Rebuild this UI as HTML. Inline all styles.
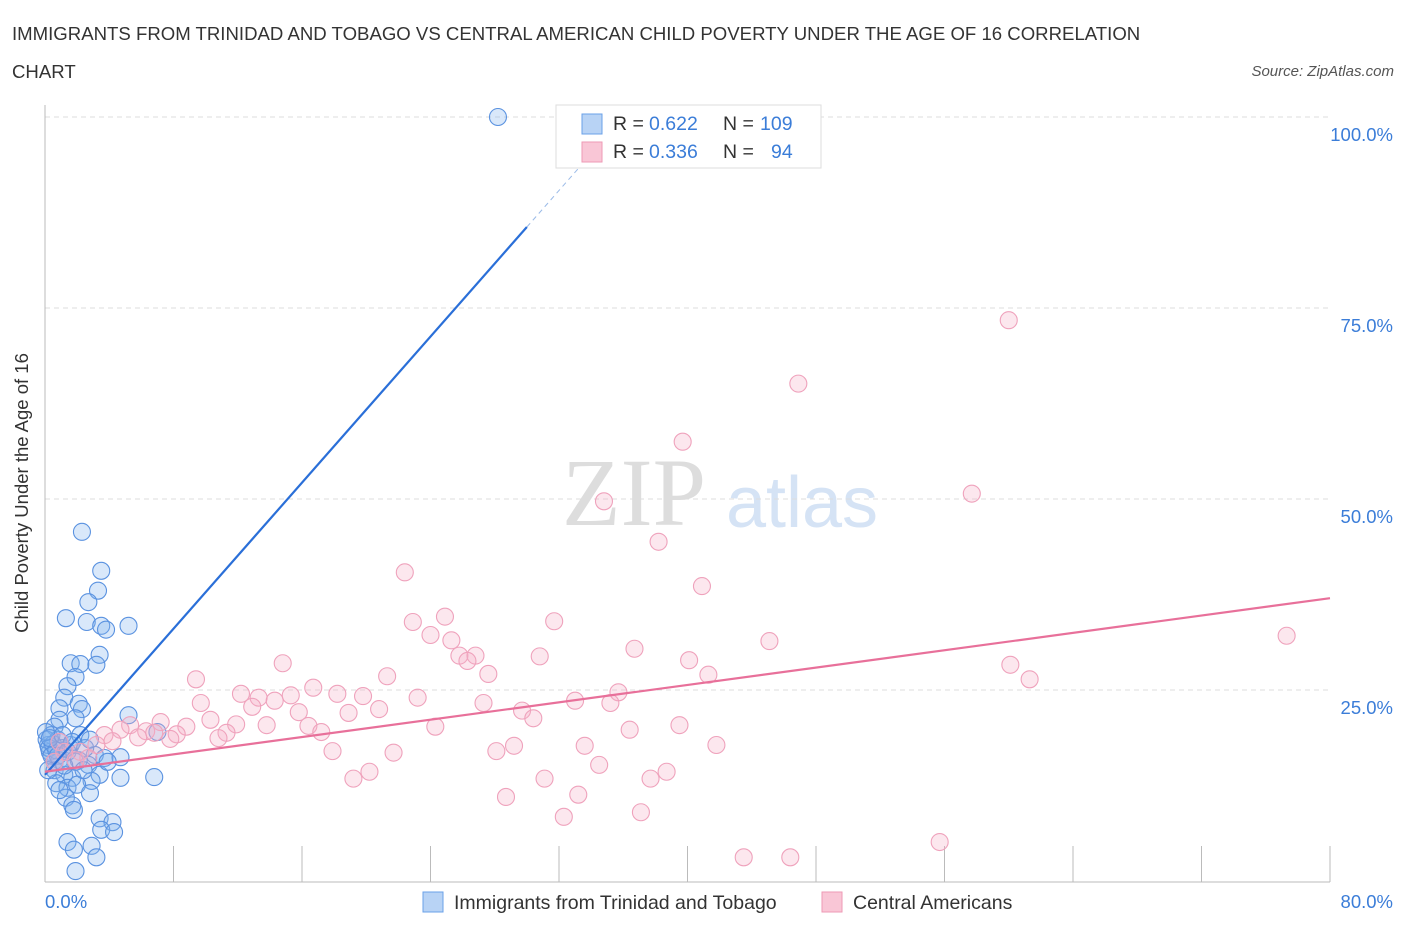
<!DOCTYPE html>
<html><head><meta charset="utf-8"><style>
body{margin:0;background:#fff;font-family:"Liberation Sans",sans-serif;}
svg text{font-family:"Liberation Sans",sans-serif;}
</style></head><body>
<svg id="chart" width="1406" height="930" xmlns="http://www.w3.org/2000/svg">
<text x="12" y="40" font-size="18.6" fill="#333">IMMIGRANTS FROM TRINIDAD AND TOBAGO VS CENTRAL AMERICAN CHILD POVERTY UNDER THE AGE OF 16 CORRELATION</text>
<text x="12" y="78" font-size="18.6" fill="#333">CHART</text>
<text x="1394" y="76" font-size="15" fill="#555" font-style="italic" text-anchor="end">Source: ZipAtlas.com</text>
<text x="634" y="525" font-size="96" fill="#ddd" text-anchor="middle" style="font-family:'Liberation Serif',serif">ZIP</text>
<text x="802" y="527" font-size="72" fill="#d5e3f5" text-anchor="middle">atlas</text>
<g id="grid"></g>
<g id="axes"></g>
<g id="pts"></g>
<g id="lines"></g>
<text x="28" y="493" font-size="18.5" fill="#333" transform="rotate(-90 28 493)" text-anchor="middle">Child Poverty Under the Age of 16</text>
<text x="45" y="908" font-size="18.5" fill="#3b7dd8">0.0%</text>
<text x="1393" y="908" font-size="18.5" fill="#3b7dd8" text-anchor="end">80.0%</text>
<g>
<rect x="556" y="105" width="265" height="63" fill="#fff" stroke="#ddd"/>
<rect x="582" y="114" width="20" height="20" fill="#b8d3f5" stroke="#6aa0e8"/>
<rect x="582" y="142" width="20" height="20" fill="#f9c6d6" stroke="#ee9ab5"/>
<text x="613" y="130" font-size="19.5" fill="#333">R =</text>
<text x="649" y="130" font-size="19.5" fill="#3b7dd8">0.622</text>
<text x="723" y="130" font-size="19.5" fill="#333">N =</text>
<text x="760" y="130" font-size="19.5" fill="#3b7dd8">109</text>
<text x="613" y="158" font-size="19.5" fill="#333">R =</text>
<text x="649" y="158" font-size="19.5" fill="#3b7dd8">0.336</text>
<text x="723" y="158" font-size="19.5" fill="#333">N =</text>
<text x="771" y="158" font-size="19.5" fill="#3b7dd8">94</text>
</g>
<g>
<rect x="423" y="892" width="20" height="20" fill="#b8d3f5" stroke="#6aa0e8"/>
<text x="454" y="909" font-size="19.5" fill="#333">Immigrants from Trinidad and Tobago</text>
</g>
<g>
<rect x="822" y="892" width="20" height="20" fill="#f9c6d6" stroke="#ee9ab5"/>
<text x="853" y="909" font-size="19.5" fill="#333">Central Americans</text>
</g>
</svg>
<script>
const yTicks=[25,50,75,100];
const yTickLabels=["25.0%","50.0%","75.0%","100.0%"];
const xTicks=[0,8,16,24,32,40,48,56,64,72,80];
const blueX=[28.2,2.3,3.5,3.3,2.7,1.3,2.6,3.5,3.8,5.2,3.4,1.6,2.2,3.2,1.9,1.4,1.2,2.1,2.3,0.9,5.2,1.9,0.9,0.6,0.4,0.8,0.2,1.1,0.3,1.6,2.2,7.0,3.1,3.7,4.7,0.9,1.9,2.7,0.6,1.2,3.4,4.7,6.8,1.7,2.9,0.7,1.4,2.0,2.8,1.3,1.7,1.8,3.4,4.2,3.5,4.3,1.4,2.9,1.8,3.2,1.9,0.1,0.25,0.5,0.4,0.7,0.06,0.3,0.8,1.1,1.4,1.7,2.5,2.8,2.1,1.2,0.6,0.9,0.2,2.4,3.9];
const blueY=[100,45.7,40.6,38.0,36.5,34.4,33.9,33.4,32.9,33.4,29.6,28.5,28.4,28.3,26.7,25.5,24.0,23.2,22.5,22.6,21.7,21.3,21.1,20.2,19.1,18.5,17.8,17.4,16.9,17.8,19.1,19.5,16.5,16.1,16.2,15.8,15.6,15.2,14.5,13.9,13.9,13.5,13.6,13.5,13.1,12.8,12.2,12.6,11.5,10.9,9.9,9.3,8.2,7.7,6.7,6.4,5.1,4.6,4.1,3.1,1.3,18.5,17.4,17.9,16.4,17.1,19.5,18.7,16.4,19.1,16.9,18.2,17.4,18.5,15.8,15.1,15.6,11.9,14.5,14.5,15.6];
const pinkX=[60.0,46.9,39.7,57.7,34.8,38.2,40.9,22.4,24.9,22.9,31.7,24.0,25.3,45.1,77.3,36.7,25.8,26.8,30.8,26.3,14.8,40.1,60.1,27.6,21.3,41.3,61.3,9.4,16.7,35.7,12.2,18.2,19.8,13.3,15.3,23.2,14.3,33.0,35.2,9.7,27.3,12.9,20.8,15.8,18.9,29.7,30.4,10.3,7.2,5.3,8.8,11.9,13.8,16.4,24.3,39.5,36.4,4.7,6.3,6.8,8.2,17.2,11.3,3.7,5.8,7.8,10.8,4.2,3.2,29.2,41.8,33.6,17.9,28.1,21.7,2.2,1.2,34.5,38.7,20.2,19.2,31.1,37.7,33.2,28.7,37.1,32.3,55.7,43.5,46.4,0.6,0.9,1.9,2.7];
const pinkY=[73.4,65.1,57.5,50.7,49.7,44.4,38.6,40.4,34.6,33.9,34.0,32.2,31.5,31.4,32.1,30.4,29.5,29.5,29.4,28.8,28.5,28.9,28.3,27.1,26.8,27.0,26.4,26.4,25.3,24.7,24.5,24.5,24.2,24.0,24.3,24.0,23.6,23.6,23.3,23.3,23.3,22.8,22.5,22.1,22.0,22.3,21.3,21.1,20.8,20.4,20.2,20.5,20.4,20.3,20.2,20.4,19.8,19.8,19.6,19.4,19.2,19.5,19.4,19.1,18.8,18.6,18.7,18.3,17.8,17.7,17.8,17.7,17.0,17.0,16.8,16.9,16.9,15.2,14.3,14.3,13.4,13.4,13.4,11.3,11.0,9.0,8.4,5.1,3.1,3.1,15.6,18.2,15.8,16.1];
const blueFit=[13.9,2.39];
const pinkFit=[14.3,0.284];
const NS="http://www.w3.org/2000/svg";
const sx=v=>45+v*(1285/80);
const sy=v=>881-v*7.64;
function mk(tag,attrs,parent){const e=document.createElementNS(NS,tag);for(const k in attrs)e.setAttribute(k,attrs[k]);parent.appendChild(e);return e;}
const grid=document.getElementById('grid'),axes=document.getElementById('axes'),pts=document.getElementById('pts'),lines=document.getElementById('lines');
yTicks.forEach((t,i)=>{
 const l=mk('line',{x1:45,x2:1330,y1:sy(t),y2:sy(t),stroke:'#ddd','stroke-dasharray':'5,4'},grid);
 
 
 const tx=mk('text',{x:1393,y:sy(t)+24,'font-size':18.5,fill:'#3b7dd8','text-anchor':'end'},grid);
 tx.textContent=yTickLabels[i];
 
 
});
const ya=mk('line',{x1:45,x2:45,y1:105,y2:882,stroke:'#bbb'},axes);


const xa=mk('line',{x1:45,x2:1330,y1:882,y2:882,stroke:'#bbb'},axes);


xTicks.forEach(t=>{
 const l=mk('line',{x1:sx(t),x2:sx(t),y1:846,y2:882,stroke:'#bbb'},axes);
 
 
});
blueX.forEach((x,i)=>{
 const c=mk('circle',{cx:sx(x),cy:sy(blueY[i]),r:8.5,fill:'rgba(130,178,238,0.3)',stroke:'#5a92e0','stroke-width':1.1},pts);
 
 
});
pinkX.forEach((x,i)=>{
 const c=mk('circle',{cx:sx(x),cy:sy(pinkY[i]),r:8.5,fill:'rgba(245,175,200,0.3)',stroke:'#efa2bc','stroke-width':1.1},pts);
 
 
});
const bl=mk('line',{x1:sx(0),y1:sy(blueFit[0]),x2:sx(30),y2:sy(blueFit[0]+blueFit[1]*30),stroke:'#2a6fd8','stroke-width':2.2},lines);


const bd=mk('line',{x1:sx(30),y1:sy(blueFit[0]+blueFit[1]*30),x2:sx(33.3),y2:sy(blueFit[0]+blueFit[1]*33.3),stroke:'#9bbbe8','stroke-width':1,'stroke-dasharray':'5,4'},lines);


const pl=mk('line',{x1:sx(0),y1:sy(pinkFit[0]),x2:sx(80),y2:sy(pinkFit[0]+pinkFit[1]*80),stroke:'#e8709a','stroke-width':2.2},lines);


</script>
</body></html>
